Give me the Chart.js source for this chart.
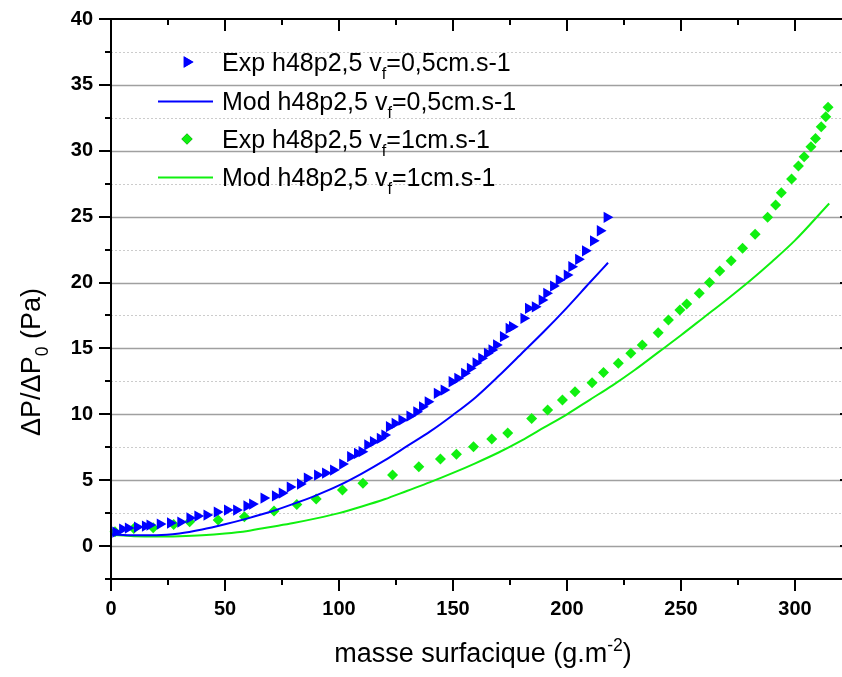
<!DOCTYPE html>
<html>
<head>
<meta charset="utf-8">
<title>ΔP/ΔP0 - masse surfacique</title>
<script src="https://cdn.jsdelivr.net/npm/chart.js@4/dist/chart.umd.min.js"></script>
<style>
  html, body { margin: 0; padding: 0; background: #fff; overflow: hidden; }
  #wrap { width: 842px; height: 677px; overflow: hidden; }
  canvas { display: block; }
</style>
</head>
<body>
<div id="wrap"><canvas id="chart" width="860" height="677"></canvas></div>
<script>
  const FONT = '"Liberation Sans", Arial, sans-serif';

  // Exp h48p2,5 vf=0,5cm.s-1
  const exp05X = [2, 5, 7.5, 11.5, 15, 17, 21.5, 26, 30.5, 34.5, 38, 42, 46.5, 51, 55, 59.5, 62, 67, 72, 75,
    78.5, 83, 86, 90.5, 94, 97.5, 101.5, 105, 108, 110, 112.5, 115, 118, 120, 122, 124.5, 127.5, 131, 134, 136.5,
    139, 143, 146, 149.5, 152, 155, 157.5, 160, 162.5, 165, 167, 169, 172, 174.5, 176, 181, 183, 186, 189, 191,
    194, 196.5, 200, 202, 205, 208, 211.5, 214.5, 217.5];
  const exp05Y = [1.06, 1.29, 1.37, 1.44, 1.52, 1.59, 1.67, 1.75, 1.82, 2.13, 2.28, 2.35, 2.58, 2.73, 2.73, 3.04, 3.19, 3.64, 3.80, 4.02,
    4.48, 4.71, 5.16, 5.39, 5.54, 5.77, 6.22, 6.78, 7.03, 7.16, 7.67, 7.92, 8.17, 8.42, 9.06, 9.31, 9.56, 9.87, 10.19, 10.57,
    10.95, 11.59, 11.84, 12.47, 12.73, 13.11, 13.49, 13.9, 14.25, 14.63, 14.88, 15.26, 15.89, 16.52, 16.65, 17.28, 18.04, 18.16, 18.67, 19.18,
    19.73, 20.19, 20.57, 21.20, 21.76, 22.41, 23.17, 23.93, 24.95];

  // Mod h48p2,5 vf=0,5cm.s-1
  const mod05X = [0, 10, 20, 30, 40, 50, 60, 70, 80, 90, 100, 110, 120, 130, 140, 150, 160, 170, 180, 190, 200, 210, 218];
  const mod05Y = [0.9, 0.82, 0.82, 0.95, 1.25, 1.65, 2.1, 2.6, 3.2, 3.85, 4.6, 5.5, 6.5, 7.6, 8.7, 9.95, 11.3, 12.9, 14.6, 16.3, 18.1, 20.0, 21.5];

  // Exp h48p2,5 vf=1cm.s-1
  const exp1X = [1.75, 10, 18.5, 27.5, 34.5, 47, 58.5, 71.5, 81.5, 90, 101.5, 110.5, 123.5, 135, 144.5, 151.5, 159, 167, 174, 184.5,
    191.5, 198, 203.5, 211, 216, 222.5, 228, 233, 240, 244.5, 249.5, 252.5, 258, 262.5, 267, 272, 277, 282.5, 288, 291.5,
    294, 298.5, 301.5, 304, 307, 309, 311.5, 313.5, 314.5];
  const exp1Y = [1.09, 1.34, 1.39, 1.64, 1.85, 1.97, 2.23, 2.66, 3.16, 3.57, 4.25, 4.76, 5.39, 6.02, 6.6, 6.97, 7.54, 8.12, 8.58, 9.69,
    10.32, 11.08, 11.71, 12.4, 13.18, 13.87, 14.63, 15.26, 16.19, 17.15, 17.91, 18.37, 19.18, 20.01, 20.87, 21.65, 22.6, 23.67, 24.95, 25.88,
    26.82, 27.86, 28.84, 29.55, 30.31, 30.94, 31.83, 32.58, 33.3];

  // Mod h48p2,5 vf=1cm.s-1
  const mod1X = [0, 10, 20, 30, 40, 50, 60, 70, 80, 90, 100, 110, 120, 130, 140, 150, 160, 170, 180, 190, 200, 210,
    220, 230, 240, 250, 260, 270, 280, 290, 300, 315];
  const mod1Y = [0.85, 0.75, 0.72, 0.75, 0.82, 0.95, 1.15, 1.45, 1.75, 2.1, 2.5, 3.0, 3.55, 4.2, 4.85, 5.55, 6.3, 7.1, 8.0, 9.0, 10.0, 11.1,
    12.2, 13.4, 14.7, 16.0, 17.35, 18.7, 20.1, 21.6, 23.2, 26.0];

  // "_x" = indice, "^{..}" = exposant
  const seriesLabels = [
    'Exp h48p2,5 v_f=0,5cm.s-1',
    'Mod h48p2,5 v_f=0,5cm.s-1',
    'Exp h48p2,5 v_f=1cm.s-1',
    'Mod h48p2,5 v_f=1cm.s-1'
  ];
  const xTitle = 'masse surfacique (g.m^{-2})';
  const yTitle = 'ΔP/ΔP_0 (Pa)';
  const xTickValues = [0, 50, 100, 150, 200, 250, 300];
  const yTickValues = [0, 5, 10, 15, 20, 25, 30, 35, 40];

  const BLUE = '#0000ff';
  const GREEN = '#10f010';

  const pts = (xs, ys) => xs.map((v, i) => ({x: v, y: ys[i]}));

  // texte avec indices / exposants
  function richParts(label) {
    const parts = [];
    const re = /_(.)|\^\{([^}]*)\}/g;
    let last = 0, m;
    while ((m = re.exec(label))) {
      if (m.index > last) parts.push({t: label.slice(last, m.index), k: 0});
      parts.push(m[1] !== undefined ? {t: m[1], k: -1} : {t: m[2], k: 1});
      last = re.lastIndex;
    }
    if (last < label.length) parts.push({t: label.slice(last), k: 0});
    return parts;
  }
  function richWidth(ctx, label, size) {
    let w = 0;
    richParts(label).forEach(p => {
      ctx.font = (p.k ? size * 0.65 : size) + 'px ' + FONT;
      w += ctx.measureText(p.t).width;
    });
    return w;
  }
  function drawRich(ctx, label, x, y, size) {
    richParts(label).forEach(p => {
      ctx.font = (p.k ? size * 0.65 : size) + 'px ' + FONT;
      const dy = p.k < 0 ? size * 0.3 : (p.k > 0 ? -size * 0.42 : 0);
      ctx.fillText(p.t, x, y + dy);
      x += ctx.measureText(p.t).width;
    });
  }

  // grille, cadre et graduations façon Origin
  const framePlugin = {
    id: 'framePlugin',
    beforeDatasetsDraw(chart) {
      const {ctx, chartArea: a, scales: {x, y}} = chart;
      ctx.save();
      for (let v = 0; v < 40; v += 2.5) {
        const py = Math.round(y.getPixelForValue(v)) + 0.5;
        const major = v % 5 === 0;
        ctx.beginPath();
        ctx.strokeStyle = major ? '#a0a0a0' : '#cccccc';
        ctx.lineWidth = major ? 1.5 : 1;
        ctx.setLineDash(major ? [] : [2, 2]);
        ctx.moveTo(a.left, py);
        ctx.lineTo(a.right, py);
        ctx.stroke();
      }
      ctx.restore();
    },
    afterDatasetsDraw(chart) {
      const {ctx, chartArea: a, scales: {x, y}} = chart;
      ctx.save();
      ctx.strokeStyle = '#000';
      ctx.lineWidth = 2;
      ctx.strokeRect(a.left, a.top, a.right - a.left, a.bottom - a.top);
      ctx.beginPath();
      for (let v = 0; v <= 325; v += 25) {
        const px = Math.round(x.getPixelForValue(v));
        const len = v % 50 === 0 ? 12 : 6;
        ctx.moveTo(px, a.bottom); ctx.lineTo(px, a.bottom + len);
        ctx.moveTo(px, a.top); ctx.lineTo(px, a.top + len);
      }
      for (let v = -2.5; v <= 40; v += 2.5) {
        const py = Math.round(y.getPixelForValue(v));
        const len = v % 5 === 0 ? 12 : 6;
        ctx.moveTo(a.left, py); ctx.lineTo(a.left - len, py);
        ctx.moveTo(a.right, py); ctx.lineTo(a.right - len, py);
      }
      ctx.stroke();
      ctx.restore();
    },
    afterDraw(chart) {
      const {ctx} = chart;
      ctx.save();
      ctx.fillStyle = '#000';
      ctx.textBaseline = 'alphabetic';
      ctx.textAlign = 'left';

      // titres des axes
      const wx = richWidth(ctx, xTitle, 27);
      drawRich(ctx, xTitle, 483 - wx / 2, 662, 27);
      const wy = richWidth(ctx, yTitle, 27);
      ctx.translate(40, 362);
      ctx.rotate(-Math.PI / 2);
      drawRich(ctx, yTitle, -wy / 2, 0, 27);
      ctx.restore();

      // légende
      ctx.save();
      const rows = [62, 101, 139, 177];
      chart.data.datasets.forEach((ds, i) => {
        const cy = rows[i];
        if (ds.showLine) {
          ctx.strokeStyle = ds.borderColor;
          ctx.lineWidth = 2;
          ctx.beginPath();
          ctx.moveTo(158, cy + 0.5);
          ctx.lineTo(213, cy + 0.5);
          ctx.stroke();
        } else {
          Chart.helpers.drawPoint(ctx, {
            pointStyle: ds.pointStyle, rotation: ds.rotation, radius: ds.pointRadius, borderWidth: 0
          }, 187, cy);
          ctx.fillStyle = ds.backgroundColor;
          ctx.fill();
        }
        ctx.fillStyle = '#000';
        drawRich(ctx, ds.label, 222, cy + 9, 25);
      });
      ctx.restore();
    }
  };

  const chart = new Chart(document.getElementById('chart').getContext('2d'), {
    type: 'scatter',
    data: {
      datasets: [
        {
          label: seriesLabels[0], data: pts(exp05X, exp05Y),
          pointStyle: 'triangle', rotation: 90, pointRadius: 6.5,
          backgroundColor: BLUE, borderColor: BLUE, borderWidth: 0, clip: false
        },
        {
          label: seriesLabels[1], data: pts(mod05X, mod05Y), showLine: true,
          pointRadius: 0, borderColor: BLUE, backgroundColor: BLUE, borderWidth: 2,
          cubicInterpolationMode: 'monotone', clip: false
        },
        {
          label: seriesLabels[2], data: pts(exp1X, exp1Y),
          pointStyle: 'rectRot', pointRadius: 5.5,
          backgroundColor: GREEN, borderColor: GREEN, borderWidth: 0, clip: false
        },
        {
          label: seriesLabels[3], data: pts(mod1X, mod1Y), showLine: true,
          pointRadius: 0, borderColor: GREEN, backgroundColor: GREEN, borderWidth: 2,
          cubicInterpolationMode: 'monotone', clip: false
        }
      ]
    },
    options: {
      responsive: false,
      animation: false,
      layout: { padding: { top: 19, right: 8, left: 0, bottom: 0 } },
      plugins: {
        legend: { display: false },
        tooltip: { enabled: false }
      },
      scales: {
        x: {
          type: 'linear', min: 0, max: 325,
          grid: { display: false, drawTicks: false },
          border: { display: false },
          afterBuildTicks: s => { s.ticks = xTickValues.map(v => ({value: v})); },
          afterFit: s => { s.height = 98; s.paddingLeft = 0; s.paddingRight = 0; },
          ticks: {
            color: '#000', padding: 18, maxRotation: 0,
            font: { family: FONT, size: 20, weight: 'bold' }
          }
        },
        y: {
          type: 'linear', min: -2.5, max: 40,
          grid: { display: false, drawTicks: false },
          border: { display: false },
          afterBuildTicks: s => { s.ticks = yTickValues.map(v => ({value: v})); },
          afterFit: s => { s.width = 111; s.paddingTop = 0; s.paddingBottom = 0; },
          ticks: {
            color: '#000', padding: 18,
            font: { family: FONT, size: 20, weight: 'bold' }
          }
        }
      }
    },
    plugins: [framePlugin]
  });
</script>
</body>
</html>
